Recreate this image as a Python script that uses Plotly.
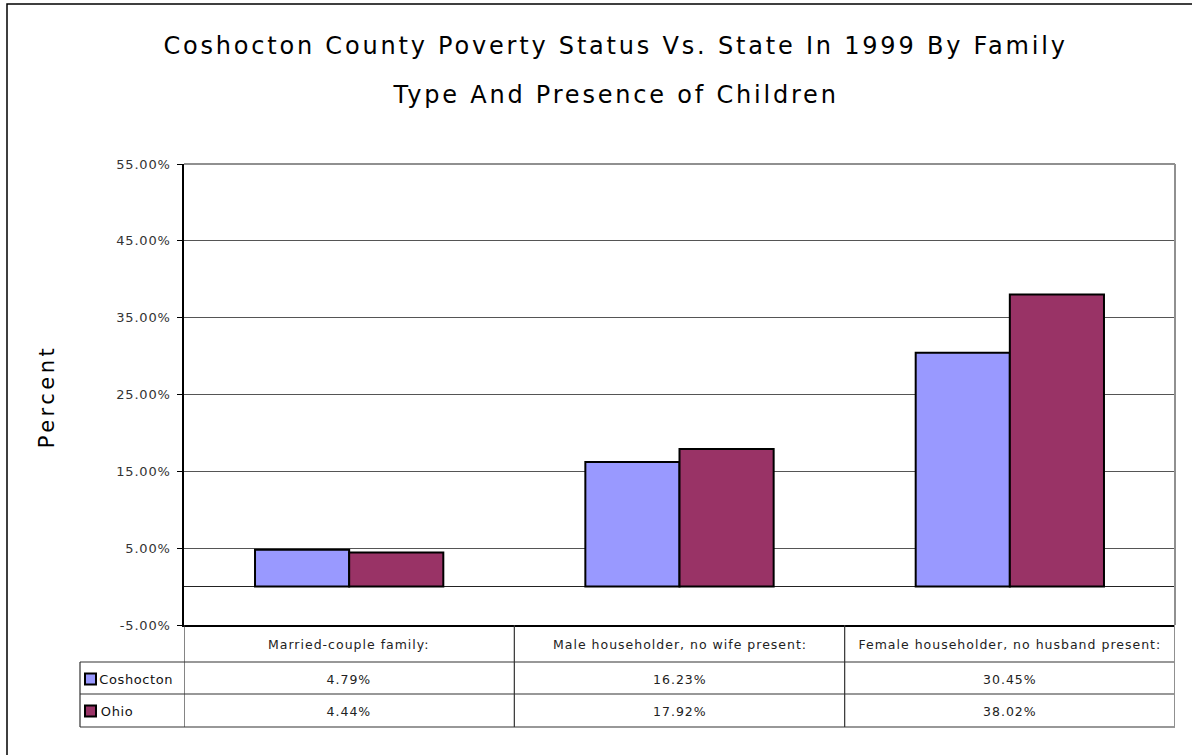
import plotly.graph_objects as go

categories = ["Married-couple family:", "Male householder, no wife present:", "Female householder, no husband present:"]
series_names = ["Coshocton", "Ohio"]
coshocton = [4.79, 16.23, 30.45]
ohio = [4.44, 17.92, 38.02]
series_values = [coshocton, ohio]
series_colors = ["#9999FF", "#993366"]
tick_vals = [-5, 5, 15, 25, 35, 45, 55]
tick_text = ["%.2f%%" % v for v in tick_vals]
title_lines = ["Coshocton County Poverty Status Vs. State In 1999 By Family", "Type And Presence of Children"]
y_title = "Percent"

W, H = 1192, 755
L, R, T, B = 184, 1175, 164, 625
PW, PH = R - L, B - T

def px_x(px):
    return (px - L) / PW

def px_y(py):
    return (B - py) / PH

FONT = "DejaVu Sans, sans-serif"
TFONT = "DejaVu Sans, sans-serif"

fig = go.Figure()
xs = list(range(len(categories)))
for name, vals, col in zip(series_names, series_values, series_colors):
    fig.add_trace(go.Bar(x=xs, y=vals, name=name, marker=dict(color=col, line=dict(color="black", width=2)),
                         hoverinfo="y"))

shapes = []
annotations = []
# outer frame
shapes.append(dict(type="rect", xref="paper", yref="paper", x0=px_x(7), x1=px_x(1230), y0=px_y(800), y1=px_y(4),
                   line=dict(color="black", width=1.5), layer="below"))
# plot area top/right border
shapes.append(dict(type="line", xref="paper", yref="paper", x0=0, x1=1, y0=1, y1=1, line=dict(color="#909090", width=2)))
shapes.append(dict(type="line", xref="paper", yref="paper", x0=1, x1=1, y0=0, y1=1, line=dict(color="#909090", width=2)))

# data table
row_lines = [662, 694, 727]
for ry in row_lines:
    shapes.append(dict(type="line", xref="paper", yref="paper", x0=px_x(80), x1=1, y0=px_y(ry), y1=px_y(ry),
                       line=dict(color="#333333", width=1.2)))
for i in range(len(categories) + 1):
    xb = i - 0.5
    col = "#909090" if i == len(categories) else "#333333"
    shapes.append(dict(type="line", xref="x", yref="paper", x0=xb, x1=xb, y0=px_y(625), y1=px_y(727),
                       line=dict(color=col, width=1.2 if i < len(categories) else 2)))
shapes.append(dict(type="line", xref="paper", yref="paper", x0=px_x(80), x1=px_x(80), y0=px_y(662), y1=px_y(727),
                   line=dict(color="#333333", width=1.2)))

header_y = px_y(644)
row_ys = [px_y(679), px_y(711)]
for i, c in enumerate(categories):
    annotations.append(dict(text=c, x=i, y=header_y, xref="x", yref="paper", showarrow=False,
                            font=dict(family=FONT, size=12.5, color="#222222"), xanchor="center", yanchor="middle"))
for r, (name, vals, col) in enumerate(zip(series_names, series_values, series_colors)):
    for i, v in enumerate(vals):
        annotations.append(dict(text="%.2f%%" % v, x=i, y=row_ys[r], xref="x", yref="paper", showarrow=False,
                                font=dict(family=FONT, size=12.5, color="#222222"), xanchor="center", yanchor="middle"))
    cy = (679, 711)[r]
    shapes.append(dict(type="rect", xref="paper", yref="paper", x0=px_x(85), x1=px_x(96), y0=px_y(cy - 5.5), y1=px_y(cy + 5.5),
                       fillcolor=col, line=dict(color="black", width=2)))
    annotations.append(dict(text=name, x=px_x(100), y=row_ys[r], xref="paper", yref="paper", showarrow=False,
                            font=dict(family=FONT, size=13, color="#111111"), xanchor="left", yanchor="middle"))

# title (two lines)
for line, cy in zip(title_lines, (46, 95)):
    annotations.append(dict(text=line, x=px_x(615), y=px_y(cy), xref="paper", yref="paper", showarrow=False,
                            font=dict(family=TFONT, size=24, color="black"), xanchor="center", yanchor="middle"))
# y axis title
annotations.append(dict(text=y_title, x=px_x(47), y=px_y(397), xref="paper", yref="paper", showarrow=False,
                        textangle=-90, font=dict(family=TFONT, size=21, color="black"),
                        xanchor="center", yanchor="middle"))

fig.update_layout(
    width=W, height=H,
    margin=dict(l=L, r=W - R, t=T, b=H - B, pad=0),
    paper_bgcolor="white", plot_bgcolor="white",
    barmode="group", bargap=0.43, bargroupgap=0,
    showlegend=False,
    shapes=shapes, annotations=annotations,
    xaxis=dict(range=[-0.5, 2.5], showticklabels=False, ticks="", showgrid=False, zeroline=False,
               showline=True, linecolor="black", linewidth=1.5, fixedrange=True),
    yaxis=dict(range=[-5, 55], tickvals=tick_vals, ticktext=tick_text, ticks="outside", ticklen=5,
               tickcolor="black", tickwidth=1, showline=True, linecolor="black", linewidth=1.5,
               showgrid=True, gridcolor="#555555", gridwidth=1,
               zeroline=True, zerolinecolor="#222222", zerolinewidth=1.2,
               tickfont=dict(family=FONT, size=13, color="#333333"), ticklabelstandoff=4),
)

post = """
document.body.style.margin='0';
document.body.style.overflow='hidden';
var series = ['Coshocton', 'Ohio'];
document.querySelectorAll('text.annotation-text').forEach(function(t){
  var s = t.textContent;
  if (s.indexOf('Coshocton County') === 0 || s.indexOf('Type And') === 0) { t.style.letterSpacing = '2.8px'; }
  else if (s === 'Percent') { t.style.letterSpacing = '3.5px'; }
  else if (series.indexOf(s) >= 0) { t.style.letterSpacing = '0.6px'; }
  else { t.style.letterSpacing = '1px'; }
});
document.querySelectorAll('g.ytick text').forEach(function(t){ t.style.letterSpacing = '0.8px'; });
"""
fig.write_html("out.html", post_script=post, config={"displayModeBar": False})
